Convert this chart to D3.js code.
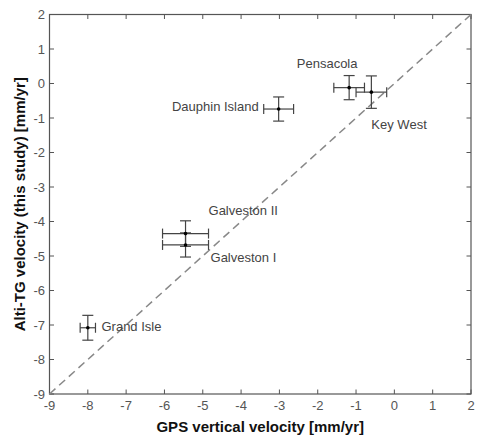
<!DOCTYPE html>
<html><head><meta charset="utf-8">
<script src="https://cdn.jsdelivr.net/npm/d3@7"></script>
<style>
html,body{margin:0;padding:0;background:#fff;}
svg{display:block;font-family:"Liberation Sans",Arial,sans-serif;}
</style></head>
<body>
<svg id="c" width="477" height="438"></svg>
<script>
const stations = ["Pensacola","Key West","Dauphin Island","Galveston II","Galveston I","Grand Isle"];
const gpsVel   = [-1.18, -0.6, -3.02, -5.45, -5.45, -8.0];
const gpsErr   = [0.4, 0.4, 0.39, 0.6, 0.6, 0.2];
const altiVel  = [-0.12, -0.25, -0.74, -4.35, -4.68, -7.08];
const altiErr  = [0.35, 0.47, 0.35, 0.37, 0.35, 0.36];
// label anchor offsets are layout, kept separately
const labelPos = [[-22, -20, "middle"],[0,37,"start"],[-5,2,"end"],[0,-19,"start"],[2,17,"start"],[6,3,"start"]];
const xTicks = [-9,-8,-7,-6,-5,-4,-3,-2,-1,0,1,2];
const yTicks = [-9,-8,-7,-6,-5,-4,-3,-2,-1,0,1,2];

const svg = d3.select("#c");
const L=49.5, R=471, T=14.5, B=394;
const x = d3.scaleLinear().domain([-9,2]).range([L,R]);
const y = d3.scaleLinear().domain([-9,2]).range([B,T]);
const axisCol="#555";

// frame
svg.append("rect").attr("x",L).attr("y",T).attr("width",R-L).attr("height",B-T)
  .attr("fill","none").attr("stroke",axisCol).attr("stroke-width",1.2);

// ticks (inward, all four sides)
const tl=4.5;
const g = svg.append("g").attr("stroke",axisCol).attr("stroke-width",1);
xTicks.forEach(t=>{
  g.append("line").attr("x1",x(t)).attr("x2",x(t)).attr("y1",B).attr("y2",B-tl);
  g.append("line").attr("x1",x(t)).attr("x2",x(t)).attr("y1",T).attr("y2",T+tl);
});
yTicks.forEach(t=>{
  g.append("line").attr("y1",y(t)).attr("y2",y(t)).attr("x1",L).attr("x2",L+tl);
  g.append("line").attr("y1",y(t)).attr("y2",y(t)).attr("x1",R).attr("x2",R-tl);
});
// tick labels
svg.append("g").selectAll("text").data(xTicks).join("text")
  .attr("x",d=>x(d)).attr("y",410).attr("text-anchor","middle")
  .attr("font-size",13).attr("fill","#555").text(d=>d);
svg.append("g").selectAll("text").data(yTicks).join("text")
  .attr("x",45).attr("y",d=>y(d)+4.5).attr("text-anchor","end")
  .attr("font-size",13).attr("fill","#555").text(d=>d);

// axis titles
svg.append("text").attr("x",(L+R)/2).attr("y",431.5).attr("text-anchor","middle")
  .attr("font-size",15).attr("font-weight","bold").attr("fill","#111")
  .text("GPS vertical velocity [mm/yr]");
svg.append("text").attr("transform",`translate(24.5,${(T+B)/2}) rotate(-90)`)
  .attr("text-anchor","middle").attr("font-size",15).attr("font-weight","bold").attr("fill","#111")
  .text("Alti-TG velocity (this study) [mm/yr]");

// 1:1 dashed line
svg.append("line").attr("x1",x(-9)).attr("y1",y(-9)).attr("x2",x(2)).attr("y2",y(2))
  .attr("stroke","#888").attr("stroke-width",1.5).attr("stroke-dasharray","8,5");

// error bars
const eb = svg.append("g").attr("stroke","#444").attr("stroke-width",1.2).attr("fill","none");
const capH=5.5, capV=5;
stations.forEach((s,i)=>{
  const cx=x(gpsVel[i]), cy=y(altiVel[i]);
  const x0=x(gpsVel[i]-gpsErr[i]), x1=x(gpsVel[i]+gpsErr[i]);
  const y0=y(altiVel[i]-altiErr[i]), y1=y(altiVel[i]+altiErr[i]);
  eb.append("line").attr("x1",cx).attr("x2",cx).attr("y1",y0).attr("y2",y1);
  eb.append("line").attr("x1",cx-capH).attr("x2",cx+capH).attr("y1",y0).attr("y2",y0);
  eb.append("line").attr("x1",cx-capH).attr("x2",cx+capH).attr("y1",y1).attr("y2",y1);
  eb.append("line").attr("x1",x0).attr("x2",x1).attr("y1",cy).attr("y2",cy);
  eb.append("line").attr("x1",x0).attr("x2",x0).attr("y1",cy-capV).attr("y2",cy+capV);
  eb.append("line").attr("x1",x1).attr("x2",x1).attr("y1",cy-capV).attr("y2",cy+capV);
  svg.append("circle").attr("cx",cx).attr("cy",cy).attr("r",1.8).attr("fill","#000");
});

// labels
svg.append("g").selectAll("text").data(stations).join("text")
  .attr("x",(d,i)=>{const p=labelPos[i]; return (p[2]==="end"? x(gpsVel[i]-gpsErr[i]) : p[2]==="start" && i!==1 ? x(gpsVel[i]+gpsErr[i]) : x(gpsVel[i]))+p[0];})
  .attr("y",(d,i)=>y(altiVel[i])+labelPos[i][1])
  .attr("text-anchor",(d,i)=>labelPos[i][2])
  .attr("font-size",13).attr("fill","#444").text(d=>d);
</script>
</body></html>
